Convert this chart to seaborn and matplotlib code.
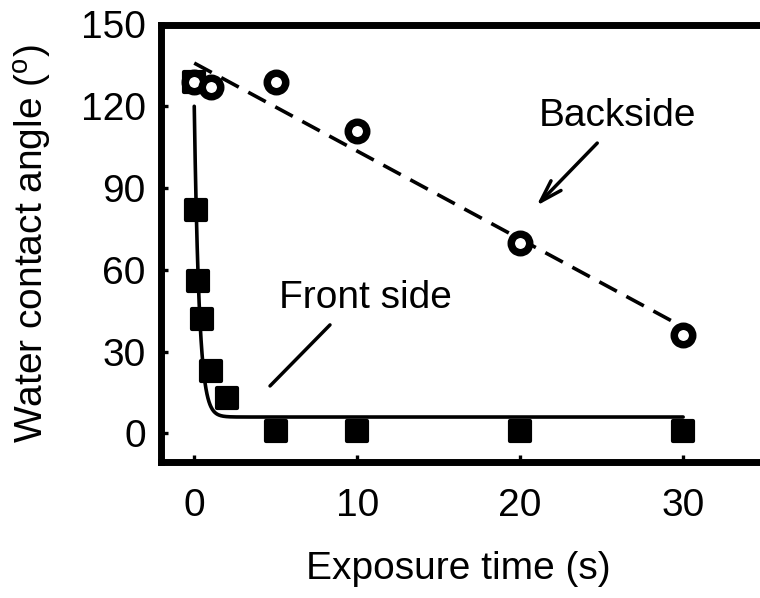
import numpy as np
import matplotlib
matplotlib.use("Agg")
import matplotlib.pyplot as plt
import seaborn as sns

# ---- data ----
back_time = [0, 1, 5, 10, 20, 30]
back_angle = [129, 127, 129, 111, 70, 36]
front_time = [0, 0.1, 0.2, 0.5, 1, 2, 5, 10, 20, 30]
front_angle = [129, 82, 56, 42, 23, 13, 1, 1, 1, 1]
# exponential-decay fit for the front side: y = y0 + amp * exp(-t / tau)
front_fit_y0 = 6.0
front_fit_amp = 114.0
front_fit_tau = 0.3
x_ticks = [0, 10, 20, 30]
y_ticks = [0, 30, 60, 90, 120, 150]

sns.set_theme(style="white")
plt.rcParams['font.family'] = ['Liberation Sans', 'DejaVu Sans']
plt.rcParams['mathtext.fontset'] = 'custom'
plt.rcParams['mathtext.rm'] = 'Liberation Sans'
plt.rcParams['mathtext.it'] = 'Liberation Sans'
plt.rcParams['text.color'] = 'black'
plt.rcParams['axes.labelcolor'] = 'black'
plt.rcParams['xtick.color'] = 'black'
plt.rcParams['ytick.color'] = 'black'

FS = 28
fig = plt.figure(figsize=(7.6, 5.98), dpi=100)
ax = fig.add_axes([161 / 760, 136 / 598, 609 / 760, 437.5 / 598])

# front-side fit curve
fit_t = np.linspace(0, 30, 1500)
fit_y = front_fit_y0 + front_fit_amp * np.exp(-fit_t / front_fit_tau)
sns.lineplot(x=fit_t, y=fit_y, ax=ax, color='black', linewidth=2.6,
             sort=False, zorder=2)

# backside linear fit (dashed)
sns.regplot(x=back_time, y=back_angle, ax=ax, scatter=False, ci=None,
            color='black',
            line_kws=dict(linewidth=2.6, linestyle=(0, (5.5, 3)), zorder=2))

# front side squares
sns.scatterplot(x=front_time, y=front_angle, ax=ax, marker='s', s=196,
                color='black', edgecolor='black', linewidth=3, zorder=3)
ax.collections[-1].set_joinstyle('round')

# backside open circles
sns.scatterplot(x=back_time, y=back_angle, ax=ax, marker='o', s=177,
                color='white', edgecolor='black', linewidth=5.4, zorder=4)

# annotations
ax.text(25.97, 112.8, "Backside", ha='center', va='baseline', fontsize=FS,
        color='black')
ax.annotate('', xy=(21.0, 83.5), xytext=(24.73, 106.5),
            arrowprops=dict(arrowstyle='->,head_length=0.8,head_width=0.25',
                            lw=2.5, color='black', shrinkA=0, shrinkB=0,
                            mutation_scale=20))
ax.text(10.5, 46.0, "Front side", ha='center', va='baseline', fontsize=FS,
        color='black')
ax.annotate('', xy=(4.65, 17.4), xytext=(8.33, 39.8),
            arrowprops=dict(arrowstyle='-', lw=2.5, color='black',
                            shrinkA=0, shrinkB=0))

# axes styling
ax.set_xlim(-2.04, 35.33)
ax.set_ylim(-10.5, 150)
ax.set_xticks(x_ticks)
ax.set_yticks(y_ticks)
ax.tick_params(axis='both', direction='in', length=5, width=2.4,
               labelsize=FS, colors='black')
ax.tick_params(axis='x', pad=19, bottom=True, top=False)
ax.tick_params(axis='y', pad=11, left=True, right=False)
for side in ['left', 'bottom', 'top']:
    ax.spines[side].set_linewidth(5)
    ax.spines[side].set_color('black')
ax.spines['right'].set_visible(False)

ax.set_xlabel("Exposure time (s)", fontsize=FS, color='black')
ax.set_ylabel(r"Water contact angle ($^{\mathregular{o}}$)", fontsize=FS,
              color='black')
ax.xaxis.set_label_coords(0.488, -0.203)
ax.yaxis.set_label_coords(-0.176, 0.5)
ax.grid(False)

fig.savefig("out.png", dpi=100)
